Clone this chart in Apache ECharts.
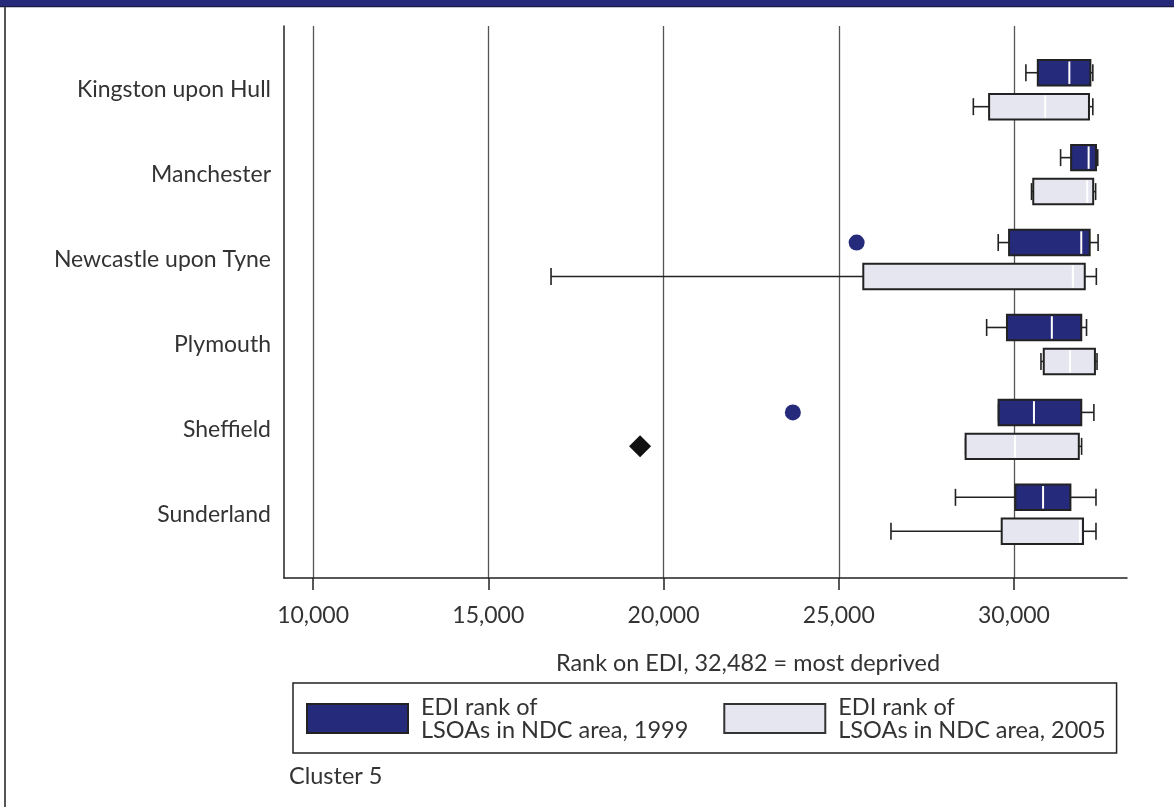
<!DOCTYPE html>
<html><head><meta charset="utf-8">
<script src="https://cdn.jsdelivr.net/npm/echarts@6/dist/echarts.min.js"></script>
<style>html,body{margin:0;padding:0;background:#fff}#c{width:1174px;height:807px}</style>
</head><body><div id="c"></div>
<script>
const categories = ['Kingston upon Hull','Manchester','Newcastle upon Tyne','Plymouth','Sheffield','Sunderland'];
// [low whisker, Q1, median, Q3, high whisker]
const box1999 = [
  [30340,30680,31580,32180,32250],
  [31330,31630,32130,32340,32390],
  [29550,29860,31920,32160,32400],
  [29220,29800,31080,31920,32070],
  [29560,29560,30570,31920,32280],
  [28330,30040,30830,31610,32340]
];
const box2005 = [
  [28840,29290,30890,32140,32250],
  [30500,30550,32090,32260,32330],
  [16790,25700,31680,32020,32350],
  [30770,30850,31600,32310,32370],
  [28620,28620,30030,31850,31930],
  [26490,29650,31880,31970,32340]
];
// [value, category index]
const outliers1999 = [[25510,2],[23690,4]];
const outliers2005 = [[19330,4]];
const xTicks = [10000,15000,20000,25000,30000];
const seriesNames = ['1999','2005'];

const FONT = 'Lato';
const NAVY = '#262a7a';
const LIGHT = '#e6e6f0';
const OFF = 0.2, HALF = 0.15, CAP = 0.1;

function makeRender(off, fill) {
  return function (params, api) {
    const cat = api.value(5) + off;
    const low = api.value(0), q1 = api.value(1), med = api.value(2), q3 = api.value(3), high = api.value(4);
    const pc = v => api.coord([v, cat]);
    const yT = api.coord([q1, cat - HALF])[1], yB = api.coord([q1, cat + HALF])[1];
    const cT = api.coord([q1, cat - CAP])[1], cB = api.coord([q1, cat + CAP])[1];
    const top = Math.min(yT, yB), bot = Math.max(yT, yB);
    const ctop = Math.min(cT, cB), cbot = Math.max(cT, cB);
    const y = pc(q1)[1];
    const xl = pc(low)[0], x1 = pc(q1)[0], xm = pc(med)[0], x3 = pc(q3)[0], xh = pc(high)[0];
    const ls = {stroke: '#222', lineWidth: 1.6};
    const children = [];
    if (xl < x1 - 0.5) {
      children.push({type: 'line', shape: {x1: xl, y1: y, x2: x1, y2: y}, style: ls});
    }
    children.push({type: 'line', shape: {x1: xl, y1: ctop, x2: xl, y2: cbot}, style: ls});
    children.push({type: 'line', shape: {x1: x3, y1: y, x2: xh, y2: y}, style: ls});
    children.push({type: 'line', shape: {x1: xh, y1: ctop, x2: xh, y2: cbot}, style: ls});
    children.push({type: 'rect', shape: {x: x1, y: top, width: x3 - x1, height: bot - top},
      style: {fill: fill, stroke: '#222', lineWidth: 2}});
    children.push({type: 'line', shape: {x1: xm, y1: top + 1.5, x2: xm, y2: bot - 1.5},
      style: {stroke: '#fff', lineWidth: 2}});
    return {type: 'group', children: children};
  };
}

const chart = echarts.init(document.getElementById('c'), null, {renderer: 'canvas'});
chart.setOption({
  animation: false,
  backgroundColor: '#fff',
  textStyle: {fontFamily: FONT},
  grid: {left: 284, right: 47, top: 26, bottom: 229, containLabel: false},
  xAxis: {
    type: 'value', min: 9170, max: 33225,
    axisLine: {show: true, onZero: false, lineStyle: {color: '#222', width: 1.5}},
    axisTick: {show: true, customValues: xTicks, length: 12, lineStyle: {color: '#222', width: 1.5}},
    axisLabel: {customValues: xTicks, formatter: v => Number(v).toLocaleString('en-US'),
      fontSize: 23, color: '#333', margin: 26, fontFamily: FONT},
    splitLine: {show: true, lineStyle: {color: '#555', width: 1.3}}
  },
  yAxis: {
    type: 'value', inverse: true, min: -0.75, max: 5.75,
    axisLine: {show: true, onZero: false, lineStyle: {color: '#222', width: 1.5}},
    axisTick: {show: false},
    splitLine: {show: false},
    axisLabel: {customValues: [0,1,2,3,4,5], formatter: v => categories[Math.round(v)],
      fontSize: 23, color: '#333', margin: 13, fontFamily: FONT}
  },
  legend: {
    left: 293, top: 683,
    data: seriesNames,
    icon: 'rect', itemWidth: 101, itemHeight: 29, itemGap: 35,
    padding: [12, 11, 11, 13],
    borderColor: '#222', borderWidth: 1.5,
    formatter: n => 'EDI rank of\nLSOAs in NDC area, ' + n,
    textStyle: {fontSize: 23.5, lineHeight: 23, width: 266, color: '#333', fontFamily: FONT, padding: [0, 0, 0, 8]},
    selectedMode: false
  },
  graphic: [
    {type: 'rect', shape: {x: 0, y: 0, width: 1174, height: 6}, style: {fill: NAVY}},
    {type: 'rect', shape: {x: 0, y: 6, width: 1174, height: 1.3}, style: {fill: '#1a1a40'}},
    {type: 'rect', shape: {x: 4, y: 7, width: 2, height: 800}, style: {fill: '#555'}},
    {type: 'text', x: 748, y: 663, style: {text: 'Rank on EDI, 32,482 = most deprived', fontSize: 23.4,
      fontFamily: FONT, fill: '#333', textAlign: 'center', textVerticalAlign: 'middle'}},
    {type: 'text', x: 289, y: 776, style: {text: 'Cluster 5', fontSize: 23.5,
      fontFamily: FONT, fill: '#333', textAlign: 'left', textVerticalAlign: 'middle'}}
  ],
  series: [
    {name: seriesNames[0], type: 'custom', renderItem: makeRender(-OFF, NAVY),
      itemStyle: {color: NAVY, borderColor: '#222', borderWidth: 1},
      encode: {x: [0,1,2,3,4], y: 5},
      data: box1999.map((b, i) => b.concat([i])), z: 3},
    {name: seriesNames[1], type: 'custom', renderItem: makeRender(OFF, LIGHT),
      itemStyle: {color: LIGHT, borderColor: '#333', borderWidth: 1},
      encode: {x: [0,1,2,3,4], y: 5},
      data: box2005.map((b, i) => b.concat([i])), z: 3},
    {type: 'scatter', symbol: 'circle', symbolSize: 16, itemStyle: {color: NAVY, opacity: 1},
      data: outliers1999.map(o => [o[0], o[1] - OFF]), z: 4},
    {type: 'scatter', symbol: 'diamond', symbolSize: 22, itemStyle: {color: '#111', opacity: 1},
      data: outliers2005.map(o => [o[0], o[1] + OFF]), z: 4}
  ]
});
</script></body></html>
